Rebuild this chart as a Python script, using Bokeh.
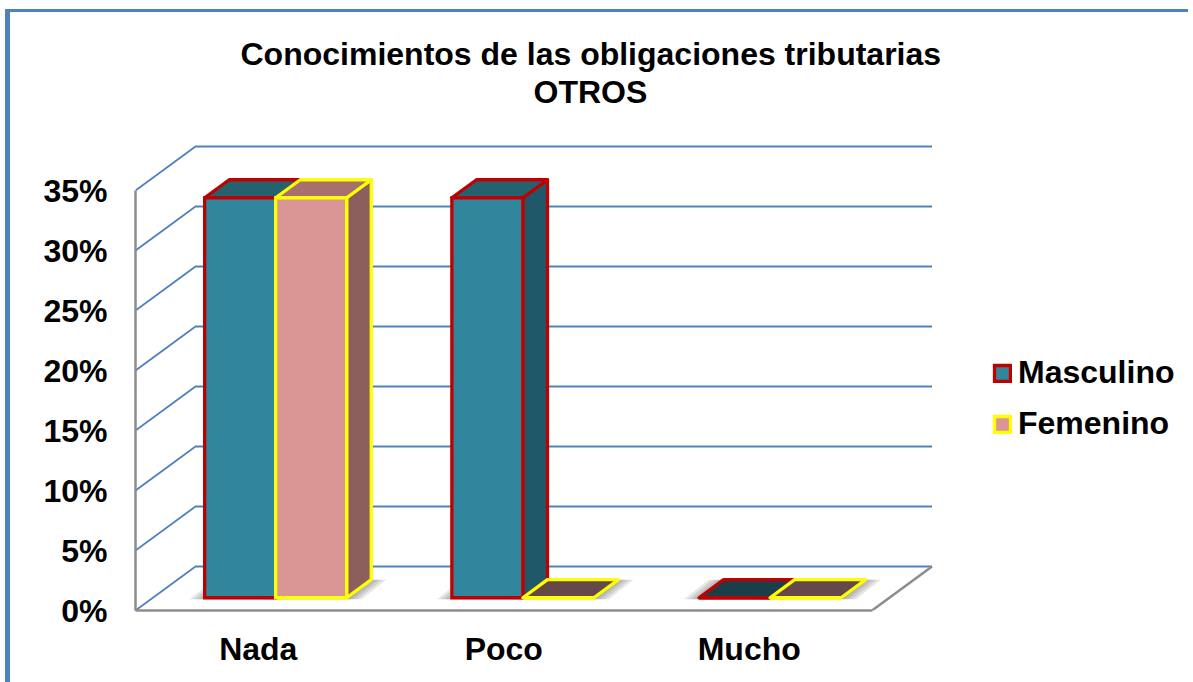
from bokeh.plotting import figure
from bokeh.models import Range1d, FixedTicker, Legend, LegendItem, Title
from bokeh.embed import file_html
from bokeh.resources import INLINE

categories = ["Nada", "Poco", "Mucho"]
masculino = [33.33, 33.33, 0.0]
femenino = [33.33, 0.0, 0.0]
y_ticks = [0, 5, 10, 15, 20, 25, 30, 35]
title_lines = ["Conocimientos de las obligaciones tributarias", "OTROS"]

FONT = "Liberation Sans"
PX_X = 245.5   # px per category
PX_Y = 12.0    # px per percent
DEPTH_X = 60 / PX_X
DEPTH_Y = 44 / PX_Y
D0, D1 = 0.29, 0.70
BAR_W = 71 / PX_X
BAR_PITCH = 1.007
BLUE = "#4F81BD"
GREY = "#8C8C8C"
TEXT_SIZE = "32px"

FRAME_W, FRAME_H = 1053, 501

p = figure(width=1178, height=670, output_backend="svg", toolbar_location=None,
           x_range=Range1d(0, FRAME_W / PX_X), y_range=Range1d(0, FRAME_H / PX_Y),
           min_border_left=125, min_border_right=0, min_border_top=97, min_border_bottom=72,
           frame_width=FRAME_W, frame_height=FRAME_H)
p.styles = {"border-left": f"5px solid {BLUE}", "border-top": f"3px solid {BLUE}",
            "margin-left": "5px", "margin-top": "9px"}
p.outline_line_color = None
p.grid.visible = False


def proj(x, v, d):
    return x + d * DEPTH_X, v + d * DEPTH_Y


# Walls and floor grid lines
gx, gy = [], []
for v in y_ticks:
    x1, y1 = proj(0, v, 1)
    x2, y2 = proj(3, v, 1)
    gx.append([0, x1, x2])
    gy.append([v, y1, y2])
p.multi_line(gx, gy, line_color=BLUE, line_width=1.8)
fx, fy = proj(3, 0, 1)
p.line([3, fx], [0, fy], line_color=GREY, line_width=2.5)


def bar(i, val, series):
    center = 0.5 + i * BAR_PITCH
    left = center - BAR_W if series == 0 else center
    right = left + BAR_W
    return left, right


def base_poly(left, right, e):
    xa, ya = proj(left, 0, D0)
    xb, _ = proj(right, 0, D0)
    xc, yc = proj(right, 0, D1)
    xd, _ = proj(left, 0, D1)
    return [xa - e, xb + e, xc + e, xd - e], [ya - 0.12, ya - 0.12, yc, yc]


# Soft shadows on the floor
sx, sy = [], []
for i in range(3):
    for s, vals in enumerate((masculino, femenino)):
        left, right = bar(i, vals[i], s)
        for px in (15, 11, 7, 3):
            a, b = base_poly(left, right, px / PX_X)
            sx.append(a)
            sy.append(b)
p.patches(sx, sy, fill_color="#3A3A3A", fill_alpha=0.13, line_color=None)

series_style = [
    dict(values=masculino, line="#C00000", front="#31859C", top="#25626F", side="#1F5969", flat="#1A3F49"),
    dict(values=femenino, line="#FFFF00", front="#D99694", top="#A6706E", side="#8C5F5D", flat="#65494A"),
]
front_renderers = {}
for s, st in enumerate(series_style):
    vals = st["values"]
    sxs, sys, txs, tys, tcol = [], [], [], [], []
    qx0, qx1, qb, qt = [], [], [], []
    for i, val in enumerate(vals):
        left, right = bar(i, val, s)
        a = proj(right, 0, D0)
        b = proj(right, 0, D1)
        c = proj(right, val, D1)
        d = proj(right, val, D0)
        if val > 0:
            sxs.append([a[0], b[0], c[0], d[0]])
            sys.append([a[1], b[1], c[1], d[1]])
        e = proj(left, val, D0)
        f = proj(right, val, D0)
        g = proj(right, val, D1)
        h = proj(left, val, D1)
        txs.append([e[0], f[0], g[0], h[0]])
        tys.append([e[1], f[1], g[1], h[1]])
        tcol.append(st["top"] if val > 0 else st["flat"])
        qx0.append(e[0]); qx1.append(f[0]); qb.append(proj(0, 0, D0)[1]); qt.append(e[1])
    p.patches(sxs, sys, fill_color=st["side"], line_color=st["line"], line_width=3.3, line_join="round")
    p.patches(txs, tys, fill_color=tcol, line_color=st["line"], line_width=3.3, line_join="round")
    front_renderers[s] = p.quad(left=qx0, right=qx1, bottom=qb, top=qt, fill_color=st["front"],
                                line_color=st["line"], line_width=3.3, line_join="miter")

# Axes
xa = p.xaxis[0]
xa.ticker = FixedTicker(ticks=[i + 0.5 for i in range(3)])
xa.major_label_overrides = {i + 0.5: c for i, c in enumerate(categories)}
xa.bounds = (0, 3)
ya = p.yaxis[0]
ya.ticker = FixedTicker(ticks=y_ticks)
ya.major_label_overrides = {v: f"{v}%" for v in y_ticks}
ya.bounds = (0, 35)
for ax in (xa, ya):
    ax.axis_line_color = GREY
    ax.axis_line_width = 2.5
    ax.major_tick_line_color = None
    ax.minor_tick_line_color = None
    ax.major_label_text_font = FONT
    ax.major_label_text_font_style = "bold"
    ax.major_label_text_font_size = TEXT_SIZE
    ax.major_label_text_color = "#000000"
xa.major_label_standoff = 14
ya.major_label_standoff = 22

# Titles
p.title = None
for text, off in zip(reversed(title_lines), (398, 105)):
    p.add_layout(Title(text=text, align="left", offset=off, text_font=FONT, text_font_style="bold",
                       text_font_size=TEXT_SIZE, text_color="#000000", standoff=0), "above")

legend = Legend(items=[LegendItem(label="Masculino", renderers=[front_renderers[0]]),
                       LegendItem(label="Femenino", renderers=[front_renderers[1]])],
                location=(857, 168), orientation="vertical", background_fill_alpha=0,
                border_line_color=None, padding=0, margin=0, spacing=14,
                glyph_width=20, glyph_height=20, label_standoff=6,
                label_text_font=FONT, label_text_font_style="bold",
                label_text_font_size=TEXT_SIZE, label_text_color="#000000")
p.add_layout(legend)

open("out.html", "w").write(file_html(p, INLINE))
